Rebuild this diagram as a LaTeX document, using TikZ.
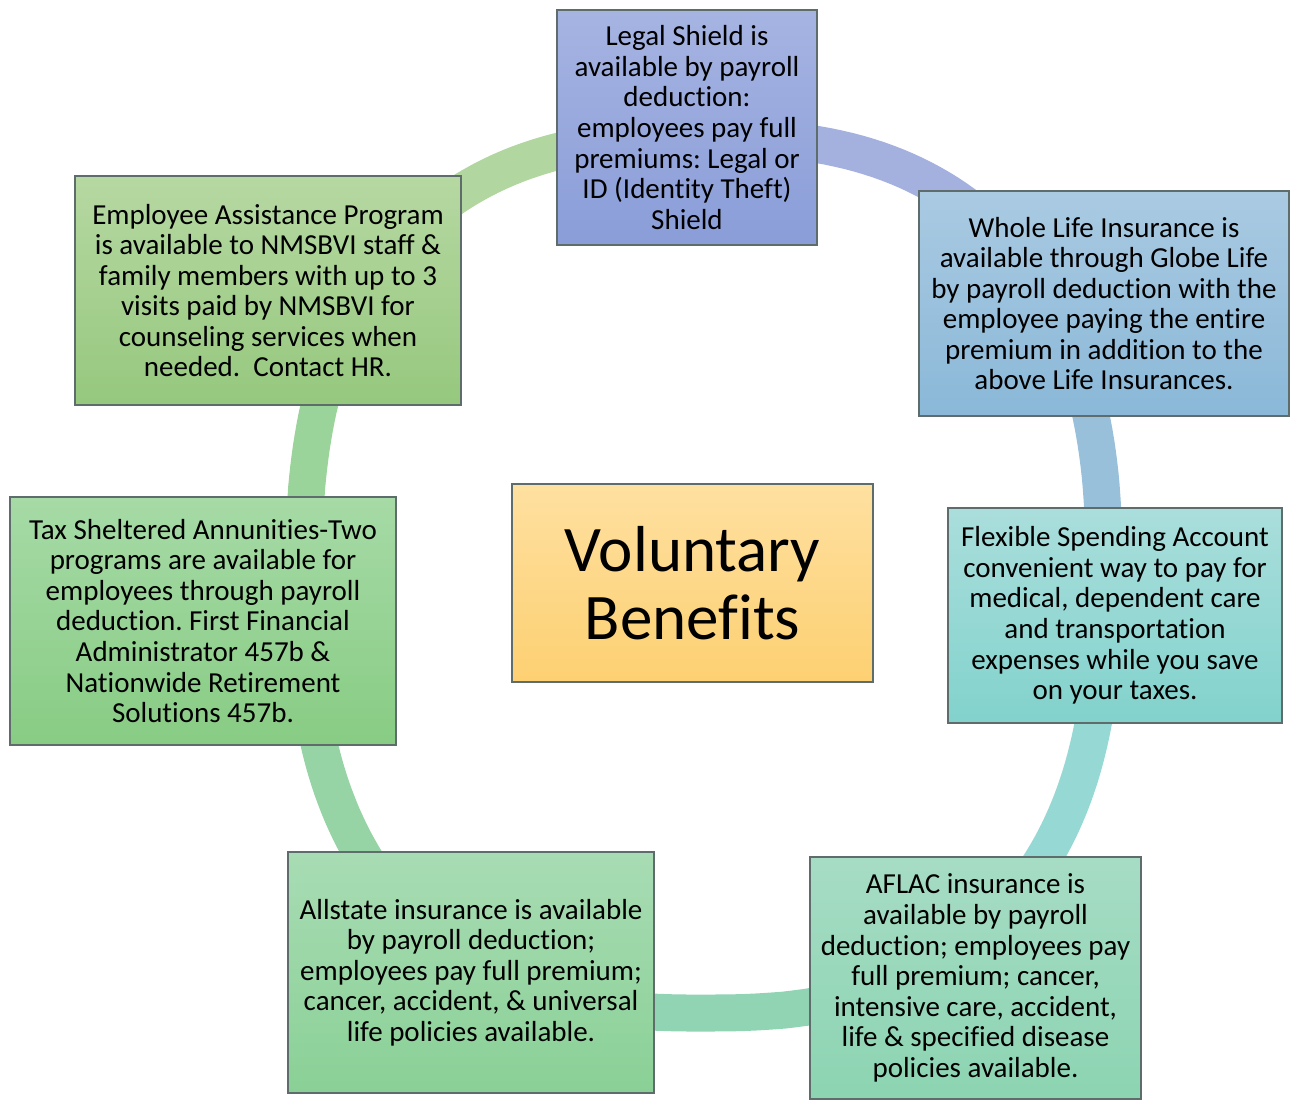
\documentclass[tikz,border=0pt]{standalone}
\usepackage{fontspec}
\setmainfont{Carlito}[Ligatures=NoCommon]
\frenchspacing

\definecolor{boxline}{RGB}{95,108,108}
\definecolor{ringeap}{RGB}{178,214,160}
\definecolor{ringlegal}{RGB}{164,176,222}
\definecolor{ringwhole}{RGB}{152,192,218}
\definecolor{ringflex}{RGB}{150,216,212}
\definecolor{ringaflac}{RGB}{145,212,180}
\definecolor{ringallstate}{RGB}{150,212,165}
\definecolor{ringtax}{RGB}{155,212,155}

\begin{document}
\begin{tikzpicture}[x=0.02cm, y=-0.02cm,
        box/.style={draw=boxline, line width=0.9pt, align=center, inner sep=0pt,
                font=\fontsize{16.5}{17.4}\selectfont},
        ring/.style={line width=0.74cm},
        declare function={
                sx(\t)=704+400*sign(cos(\t))*pow(abs(cos(\t))+0.0001,0.8);
                sy(\t)=575+438*sign(sin(\t))*pow(abs(sin(\t))+0.0001,0.8);
        }]
        \useasboundingbox (0,0) rectangle (1295,1099);

        % the ring behind the boxes
        \draw[ring, ringeap]      plot[domain=211:270, samples=40] ({sx(\x)},{sy(\x)});
        \draw[ring, ringlegal]    plot[domain=270:328, samples=40] ({sx(\x)},{sy(\x)});
        \draw[ring, ringwhole]    plot[domain=328:365, samples=30] ({sx(\x)},{sy(\x)});
        \draw[ring, ringflex]     plot[domain=5:53, samples=40] ({sx(\x)},{sy(\x)});
        \draw[ring, ringaflac]    plot[domain=53:122, samples=50] ({sx(\x)},{sy(\x)});
        \draw[ring, ringallstate] plot[domain=122:175, samples=40] ({sx(\x)},{sy(\x)});
        \draw[ring, ringtax]      plot[domain=175:211, samples=30] ({sx(\x)},{sy(\x)});

        % the boxes
        \node[box, minimum width=5.2cm, minimum height=4.7cm,
                top color={rgb,255:red,166;green,180;blue,226},
                bottom color={rgb,255:red,138;green,157;blue,216}] (legal) at (687,127.5)
                {Legal Shield is\\ available by payroll\\ deduction:\\ employees pay full\\
                 premiums: Legal or\\ ID (Identity Theft)\\ Shield};
        \node[box, minimum width=7.4cm, minimum height=4.5cm,
                top color={rgb,255:red,170;green,202;blue,226},
                bottom color={rgb,255:red,138;green,184;blue,216}] (whole) at (1104,303.5)
                {Whole Life Insurance is\\ available through Globe Life\\ by payroll deduction with the\\
                 employee paying the entire\\ premium in addition to the\\ above Life Insurances.};
        \node[box, minimum width=6.68cm, minimum height=4.3cm,
                top color={rgb,255:red,170;green,222;blue,220},
                bottom color={rgb,255:red,130;green,210;blue,204}] (flex) at (1115,615.5)
                {Flexible Spending Account\\ convenient way to pay for\\ medical, dependent care\\
                 and transportation\\ expenses while you save\\ on your taxes.};
        \node[box, minimum width=6.62cm, minimum height=4.84cm,
                top color={rgb,255:red,166;green,220;blue,196},
                bottom color={rgb,255:red,140;green,212;blue,178}] (aflac) at (975.5,978)
                {AFLAC insurance is\\ available by payroll\\ deduction; employees pay\\ full premium; cancer,\\
                 intensive care, accident,\\ life \& specified disease\\ policies available.};
        \node[box, minimum width=7.32cm, minimum height=4.82cm,
                top color={rgb,255:red,168;green,220;blue,180},
                bottom color={rgb,255:red,138;green,208;blue,150}] (allstate) at (471,972.5)
                {Allstate insurance is available\\ by payroll deduction;\\ employees pay full premium;\\
                 cancer, accident, \& universal\\ life policies available.};
        \node[box, minimum width=7.72cm, minimum height=4.96cm,
                top color={rgb,255:red,166;green,218;blue,166},
                bottom color={rgb,255:red,136;green,204;blue,132}] (tax) at (203,621)
                {Tax Sheltered Annunities-Two\\ programs are available for\\ employees through payroll\\
                 deduction. First Financial\\ Administrator 457b \&\\ Nationwide Retirement\\ Solutions 457b.};
        \node[box, minimum width=7.72cm, minimum height=4.58cm,
                top color={rgb,255:red,182;green,216;blue,162},
                bottom color={rgb,255:red,150;green,200;blue,126}] (eap) at (268,290.5)
                {Employee Assistance Program\\ is available to NMSBVI staff \&\\ family members with up to 3\\
                 visits paid by NMSBVI for\\ counseling services when\\ needed.\ \ Contact HR.};

        % the middle
        \node[box, minimum width=7.22cm, minimum height=3.96cm,
                font=\fontsize{37}{38.6}\selectfont,
                top color={rgb,255:red,254;green,224;blue,160},
                bottom color={rgb,255:red,253;green,208;blue,114}] (vb) at (692.5,583)
                {Voluntary\\ Benefits};
\end{tikzpicture}
\end{document}
